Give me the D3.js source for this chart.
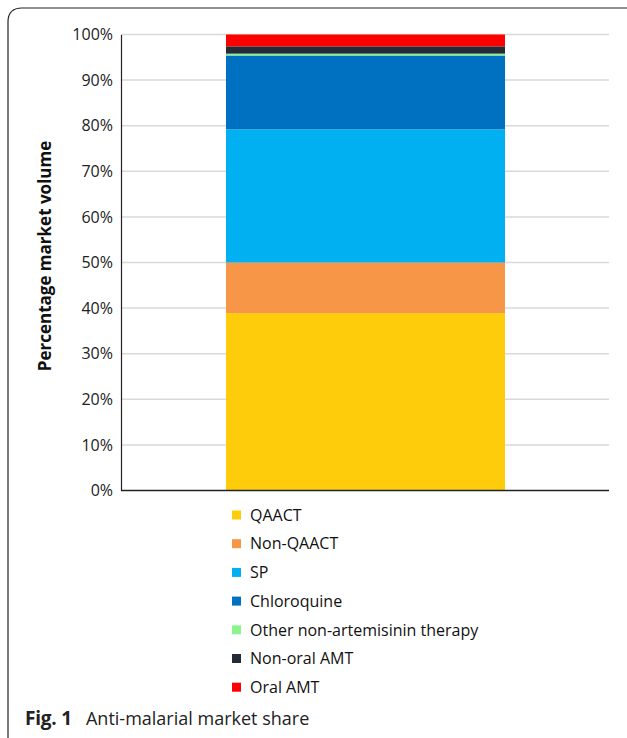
<!DOCTYPE html>
<html><head><meta charset="utf-8">
<script src="https://cdn.jsdelivr.net/npm/d3@7"></script>
<style>body{margin:0;background:#fff}svg{display:block}</style>
</head><body>
<svg id="c" width="627" height="738"></svg>
<script>
const categories = ["QAACT","Non-QAACT","SP","Chloroquine","Other non-artemisinin therapy","Non-oral AMT","Oral AMT"];
const shares = [38.9, 11.1, 29.2, 16.2, 0.4, 1.6, 2.6];
const colors = ["#FECC0B","#F79646","#00B0F0","#0070C0","#8CF48C","#232B37","#FF0000"];
const yTicks = [0,10,20,30,40,50,60,70,80,90,100];
const yTitle = "Percentage market volume";

const svg = d3.select("#c");
const font = "'Open Sans', 'Noto Sans', sans-serif";

// frame
svg.append("path").attr("d","M8,745 L8,22 Q8,8 22,8 L640,8").attr("fill","none").attr("stroke","#222").attr("stroke-width",1.2);

const y = d3.scaleLinear().domain([0,100]).range([490.5,34.5]);

// gridlines
svg.append("g").selectAll("line").data(yTicks.filter(d=>d>0)).join("line")
  .attr("x1",121).attr("x2",609).attr("y1",d=>y(d)).attr("y2",d=>y(d))
  .attr("stroke","#d9d9d9").attr("stroke-width",1.5);

// stacked bar
let cum = 0;
const stackData = shares.map((v,i)=>{const s={cat:categories[i],y0:cum,y1:cum+v,color:colors[i]};cum+=v;return s;});
svg.append("g").selectAll("rect").data(stackData).join("rect")
  .attr("x",226).attr("width",279)
  .attr("y",d=>y(d.y1)).attr("height",d=>y(d.y0)-y(d.y1))
  .attr("fill",d=>d.color);

// axes
const yAxis = d3.axisLeft(y).tickValues(yTicks).tickFormat(d=>d+"%").tickSize(0).tickPadding(8);
const ga = svg.append("g").attr("transform","translate(121,0)").call(yAxis);
ga.select(".domain").attr("stroke","#222").attr("stroke-width",1.2);
ga.selectAll("text").attr("font-family",font).attr("font-size",16).attr("fill","#222");
svg.append("line").attr("x1",121).attr("x2",609).attr("y1",y(0)).attr("y2",y(0)).attr("stroke","#222").attr("stroke-width",1.5);

svg.append("text").attr("transform","translate(51,256) rotate(-90)").attr("text-anchor","middle")
  .attr("font-family",font).attr("font-weight","bold").attr("font-size",17).attr("fill","#111").text(yTitle);

// legend
const lg = svg.append("g").selectAll("g").data(categories).join("g")
  .attr("transform",(d,i)=>`translate(232,${515+i*28.7})`);
lg.append("rect").attr("x",0).attr("y",-4.5).attr("width",9).attr("height",9).attr("fill",(d,i)=>colors[i]);
lg.append("text").attr("x",18).attr("y",0).attr("dy","0.36em").attr("font-family",font).attr("font-size",16).attr("fill","#111").text(d=>d);

// caption
const cap = svg.append("text").attr("x",25).attr("y",725).attr("font-family",font).attr("font-size",18).attr("fill","#222");
cap.append("tspan").attr("font-weight","bold").attr("font-size",19).attr("letter-spacing","-0.2").text("Fig. 1");
cap.append("tspan").attr("dx",14).text("Anti-malarial market share");
</script>
</body></html>
